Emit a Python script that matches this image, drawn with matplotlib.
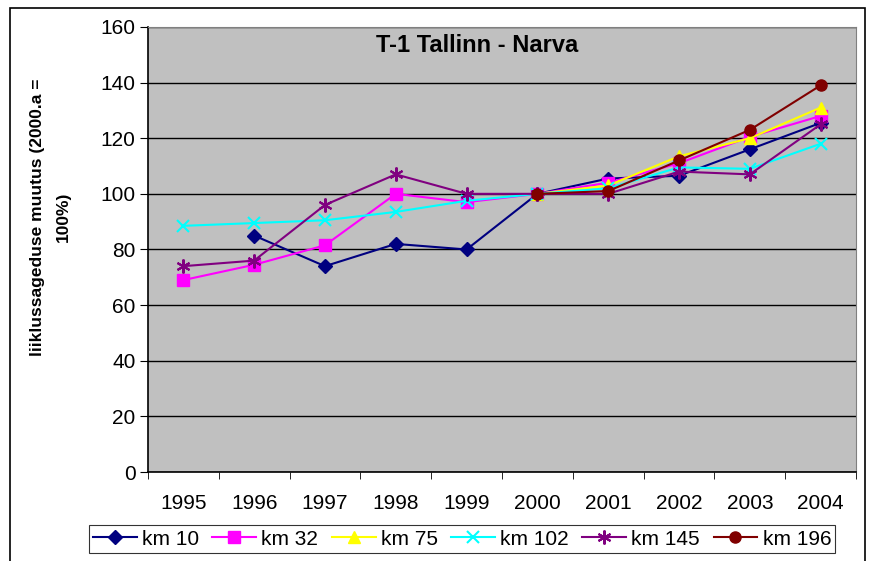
import matplotlib.pyplot as plt
from matplotlib.patches import Rectangle
import numpy as np

plt.rcParams['font.family'] = ['Liberation Sans', 'DejaVu Sans']

years = ['1995', '1996', '1997', '1998', '1999', '2000', '2001', '2002', '2003', '2004']
nan = np.nan
km10 = [nan, 85, 74, 82, 80, 100, 105.5, 106.5, 116, 125.5]
km32 = [69, 74.5, 81.5, 100, 97, 100, 104, 111, 120.5, 128]
km75 = [nan, nan, nan, nan, nan, 100, 103, 113.5, 120, 131]
km102 = [88.5, 89.5, 90.5, 93.5, 97.5, 100, 102, 109.5, 109, 118]
km145 = [74, 76, 96, 107, 100, 100, 100, 108, 107, 125]
km196 = [nan, nan, nan, nan, nan, 100, 101, 112, 123, 139]

series = [
    ('km 10', km10, '#000080', 'D', 7),
    ('km 32', km32, '#FF00FF', 's', 8),
    ('km 75', km75, '#FFFF00', '^', 9),
    ('km 102', km102, '#00FFFF', 'x', 9),
    ('km 145', km145, '#800080', (6, 2, 0), 10),
    ('km 196', km196, '#800000', 'o', 8),
]

fig = plt.figure(figsize=(8.7, 5.61), dpi=100)
ax = fig.add_axes([0.170, 0.1586, 0.814, 0.7934])
ax.set_facecolor('#C0C0C0')

x = np.arange(len(years))
for name, vals, col, mk, ms in series:
    ew = 1.5 if mk == 'x' or isinstance(mk, tuple) else 1
    ax.plot(x, vals, color=col, marker=mk, markersize=ms, linewidth=1.5,
            markeredgewidth=ew, markeredgecolor=col, label=name)

ax.set_xlim(-0.5, len(years) - 0.5)
ax.set_ylim(0, 160)
ax.set_yticks(range(0, 161, 20))
ax.set_xticks(x)
ax.set_xticklabels(years)
ax.set_xticks(np.arange(-0.5, len(years), 1), minor=True)
ax.tick_params(axis='x', which='major', length=0, labelsize=15, pad=16)
ax.tick_params(axis='x', which='minor', length=5, direction='out')
ax.tick_params(axis='y', length=6, direction='out', labelsize=15, pad=3)
ax.grid(axis='y', color='black', linewidth=1)
ax.set_axisbelow(True)
for s in ['top', 'right']:
    ax.spines[s].set_color('#808080')
for s in ['left', 'bottom']:
    ax.spines[s].set_color('black')
    ax.spines[s].set_linewidth(1.2)

# title sits a bit left of the axes centre, like the Excel original
ax.text(0.465, 0.958, 'T-1 Tallinn - Narva', transform=ax.transAxes, ha='center',
        va='center', fontsize=17, fontweight='bold')
fig.text(0.0575, 0.613, 'liiklussageduse muutus (2000.a =\n100%)', rotation=90,
         ha='center', va='center', fontsize=12.5, fontweight='bold', linespacing=1.9)

leg = fig.legend(loc='center', bbox_to_anchor=(0.531, 0.039), ncol=6,
                 fontsize=15, frameon=True, fancybox=False, edgecolor='black',
                 handlelength=2.1, columnspacing=0.65, handletextpad=0.25,
                 borderpad=0.2, borderaxespad=0)
leg.get_frame().set_linewidth(0.8)

fig.patches.append(Rectangle((0.012, -0.05), 0.982, 1.036, transform=fig.transFigure,
                             fill=False, edgecolor='black', linewidth=1.2))

fig.savefig('out.png', dpi=100)
